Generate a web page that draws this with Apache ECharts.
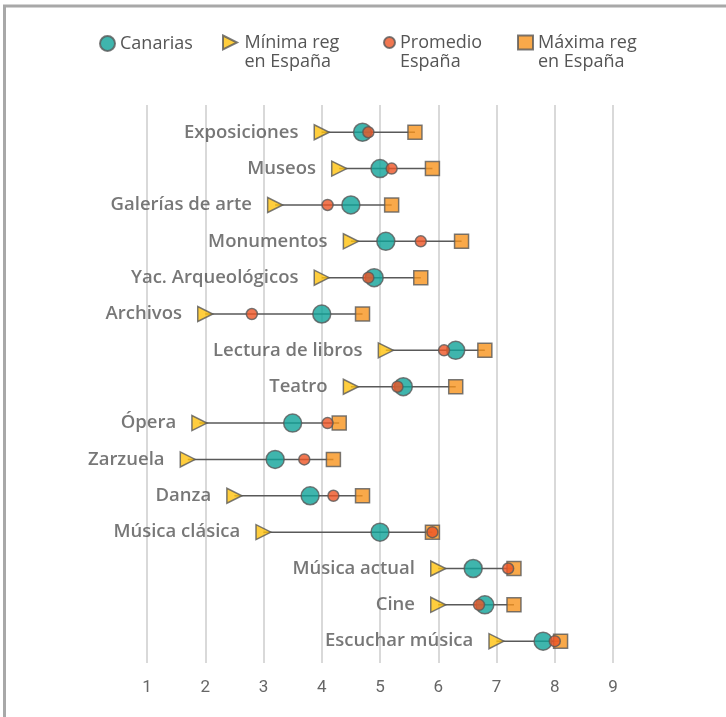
<!DOCTYPE html>
<html>
<head>
<meta charset="utf-8">
<script src="https://cdn.jsdelivr.net/npm/echarts@6/dist/echarts.min.js"></script>
<style>
  html, body { margin: 0; padding: 0; background: #fff; }
  #chart { width: 726px; height: 717px; }
</style>
</head>
<body>
<div id="chart"></div>
<script>
// activities, top to bottom
const categories = ['Exposiciones', 'Museos', 'Galerías de arte', 'Monumentos', 'Yac. Arqueológicos', 'Archivos',
  'Lectura de libros', 'Teatro', 'Ópera', 'Zarzuela', 'Danza', 'Música clásica', 'Música actual', 'Cine', 'Escuchar música']
const canarias = [4.7, 5.0, 4.5, 5.1, 4.9, 4.0, 6.3, 5.4, 3.5, 3.2, 3.8, 5.0, 6.6, 6.8, 7.8]
const minima = [4.0, 4.3, 3.2, 4.5, 4.0, 2.0, 5.1, 4.5, 1.9, 1.7, 2.5, 3.0, 6.0, 6.0, 7.0]
const promedio = [4.8, 5.2, 4.1, 5.7, 4.8, 2.8, 6.1, 5.3, 4.1, 3.7, 4.2, 5.9, 7.2, 6.7, 8.0]
const maxima = [5.6, 5.9, 5.2, 6.4, 5.7, 4.7, 6.8, 6.3, 4.3, 4.2, 4.7, 5.9, 7.3, 7.3, 8.1]

const names = ['Canarias', 'Mínima reg\nen España', 'Promedio\nEspaña', 'Máxima reg\nen España']

const ink = '#595959'
const font = 'Open Sans'
const rightTriangle = 'path://M0,0 L10,5 L0,10 Z'

const toPoints = arr => arr.map((v, i) => [v, i])

const chart = echarts.init(document.getElementById('chart'))

// one legend per item so each can sit where the original puts it
function legendAt(name, left, size, twoLines, icon) {
  const lg = {
    data: [name],
    left: left,
    top: twoLines ? 14 : 34,
    padding: 0,
    itemWidth: size[0],
    itemHeight: size[1],
    selectedMode: false,
    // leading blank line keeps the first text line level with the icon
    formatter: n => (twoLines ? '\n' + n : n),
    textStyle: {
      fontFamily: font,
      fontSize: 18,
      color: '#555',
      lineHeight: 19
    }
  }
  if (icon) lg.icon = icon
  return lg
}

chart.setOption({
  animation: false,
  textStyle: { fontFamily: font },
  graphic: [
    { type: 'line', shape: { x1: 3, y1: 6, x2: 726, y2: 6 }, style: { stroke: '#a8a8a8', lineWidth: 3 } },
    { type: 'line', shape: { x1: 4.5, y1: 5, x2: 4.5, y2: 717 }, style: { stroke: '#a8a8a8', lineWidth: 3 } }
  ],
  legend: [
    legendAt(names[0], 99, [15, 15], false),
    legendAt(names[1], 222, [19, 14], true, rightTriangle),
    legendAt(names[2], 383, [11, 11], true),
    legendAt(names[3], 517, [15, 14], true)
  ],
  grid: {
    left: 147,
    right: 113,
    top: 105,
    bottom: 54
  },
  xAxis: {
    type: 'value',
    min: 1,
    max: 9,
    interval: 1,
    axisLine: { show: false },
    axisTick: { show: false },
    axisLabel: { fontFamily: 'Roboto', fontSize: 17, color: '#666', margin: 16 },
    splitLine: { lineStyle: { color: '#d9d9d9', width: 2 } }
  },
  yAxis: {
    type: 'value',
    inverse: true,
    min: -0.75,
    max: 14.6,
    show: false
  },
  series: [
    {
      type: 'custom',
      silent: true,
      data: minima.map((v, i) => [v, maxima[i], i]),
      encode: { x: [0, 1], y: 2 },
      renderItem(params, api) {
        const a = api.coord([api.value(0), api.value(2)])
        const b = api.coord([api.value(1), api.value(2)])
        return {
          type: 'line',
          shape: { x1: a[0], y1: a[1], x2: b[0], y2: b[1] },
          style: { stroke: ink, lineWidth: 1.5 }
        }
      },
      z: 1
    },
    {
      name: names[1],
      type: 'scatter',
      data: toPoints(minima),
      symbol: 'triangle',
      symbolRotate: -90,
      symbolSize: 15,
      itemStyle: { color: '#FFC20E', borderColor: ink, borderWidth: 1.5 },
      label: {
        show: true,
        position: 'left',
        distance: 15,
        formatter: p => categories[p.dataIndex],
        fontFamily: font,
        fontWeight: 600,
        fontSize: 18.5,
        color: '#555'
      },
      z: 2
    },
    {
      name: names[3],
      type: 'scatter',
      data: toPoints(maxima),
      symbol: 'rect',
      symbolSize: 14,
      itemStyle: { color: '#F7941D', borderColor: ink, borderWidth: 1.5 },
      z: 3
    },
    {
      name: names[0],
      type: 'scatter',
      data: toPoints(canarias),
      symbol: 'circle',
      symbolSize: 18,
      itemStyle: { color: '#0FA398', borderColor: ink, borderWidth: 1.5 },
      z: 4
    },
    {
      name: names[2],
      type: 'scatter',
      data: toPoints(promedio),
      symbol: 'circle',
      symbolSize: 11,
      itemStyle: { color: '#EE5525', borderColor: ink, borderWidth: 1.5 },
      z: 5
    }
  ]
})
</script>
</body>
</html>
